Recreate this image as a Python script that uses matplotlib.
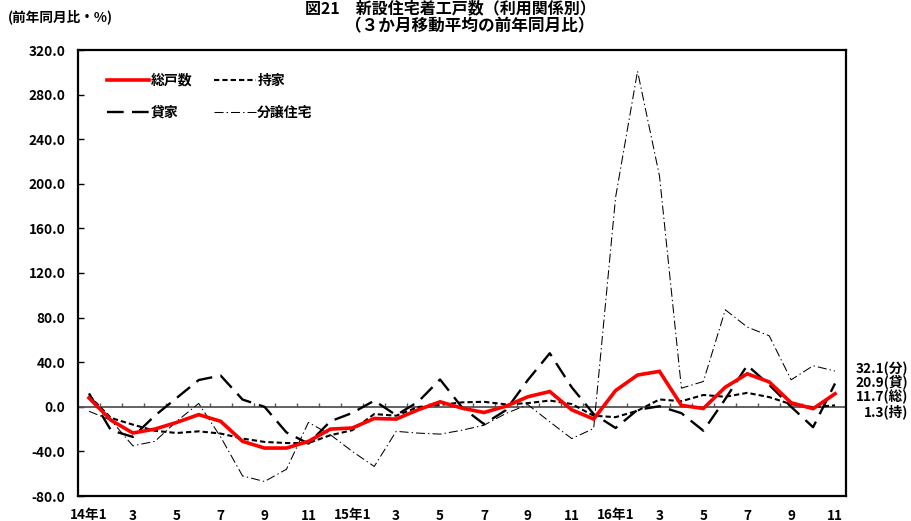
import matplotlib
matplotlib.use("Agg")
import matplotlib.pyplot as plt
import matplotlib.transforms as mtransforms
import numpy as np

plt.rcParams['font.family'] = ['Noto Sans CJK JP', 'DejaVu Sans']
plt.rcParams['font.weight'] = 'bold'
plt.rcParams['lines.scale_dashes'] = False

# 3-month moving average, year-over-year change (%)
months = list(range(35))  # 2014-01 .. 2016-11
tick_labels = ['14年1', '3', '5', '7', '9', '11',
               '15年1', '3', '5', '7', '9', '11',
               '16年1', '3', '5', '7', '9', '11']

total = [8, -12, -23.5, -20, -14, -7, -13, -31, -37, -37, -31, -20,
         -19, -10.5, -11, -2.7, 4.5, -1.2, -5.1, 0.5, 9, 13.7, -2.7, -11,
         14.6, 28.5, 31.8, 1.3, -1.5, 17.6, 29.6, 22.3, 3.6, -1.7, 11.7]
owner = [10, -10, -16, -21.5, -23.5, -22, -24, -28.5, -31.5, -32.5, -32.5, -25.5,
         -21, -6.5, -8, -0.2, 1.7, 4, 4.5, 2.2, 3.3, 5.6, 2.5, -8,
         -9.3, -3.5, 6.6, 5, 10.6, 9, 12.5, 8.7, 2.3, -0.3, 1.3]
rental = [12, -21, -27, -8, 8, 24, 28, 6.5, 0, -23, -33, -13,
          -5.5, 5.5, -7.5, 4.5, 24.5, -0.5, -15.5, -3, 24, 48, 17.5, -6.5,
          -19, -2.7, 0.5, -5.7, -21.5, 7, 37.2, 19.7, 0, -18.3, 20.9]
condo = [-4, -12, -35, -31, -13, 3, -27, -62, -67, -56, -14, -25,
         -40, -53.5, -22, -23.6, -24.5, -21, -16.5, -6, 2, -13.5, -28.5, -19.5,
         188, 301, 207, 16.7, 22.7, 87, 71.5, 63.7, 24.2, 36.8, 32.1]

fig = plt.figure(figsize=(9.11, 5.21), dpi=100)
ax = fig.add_axes([78 / 911, 1 - 496 / 521, (846 - 78) / 911, (496 - 50) / 521])

h_owner, = ax.plot(months, owner, color='black', lw=1.5, dashes=(3.8, 2.2), zorder=3)
h_rental, = ax.plot(months, rental, color='black', lw=1.7, dashes=(12, 6), zorder=3)
h_condo, = ax.plot(months, condo, color='black', lw=0.75, dashes=(6.5, 2.2, 1, 2.2), zorder=3)
h_total, = ax.plot(months, total, color='#ff0000', lw=2.6, zorder=4, solid_joinstyle='miter')

ax.set_xlim(-0.5, 34.5)
ax.set_ylim(-80, 320)
ax.set_yticks(np.arange(-80, 321, 40))
ax.set_yticklabels([f'{v:.1f}' for v in np.arange(-80, 321, 40)], fontsize=9.8)
ax.tick_params(axis='y', direction='in', length=4, width=1, pad=9)

ax.set_xticks(months[::2])
ax.set_xticklabels(tick_labels, fontsize=9.8)
ax.tick_params(axis='x', length=0, pad=9)

# category axis crossing at zero, with boundary ticks
ax.axhline(0, color='#555555', lw=1.3, zorder=2)
bounds = np.arange(-0.5, 35, 1.0)
ax.vlines(bounds[1:-1], 0, 3.2, color='#555555', lw=1.0, zorder=2)

for s in ax.spines.values():
    s.set_linewidth(1.6)
    s.set_color('black')

leg = ax.legend([h_total, h_rental, h_owner, h_condo],
                ['総戸数', '貸家', '持家', '分譲住宅'],
                ncol=2, loc='upper left', bbox_to_anchor=(0.022, 0.975),
                frameon=False, fontsize=10, handlelength=3.0,
                handletextpad=0.1, columnspacing=1.6, labelspacing=1.3)

# end-of-series value labels on the right
trans = mtransforms.blended_transform_factory(fig.transFigure, ax.transData)
finals = [(condo[-1], '分', 34), (rental[-1], '貸', 22.2), (total[-1], '総', 9.2), (owner[-1], '持', -4.2)]
for val, nm, ypos in finals:
    ax.text(908 / 911, ypos, f'{val:.1f}({nm})', transform=trans, ha='right', va='center',
            fontsize=9.8, clip_on=False)

fig.text(450 / 911, 1 - 8 / 521, '図21　新設住宅着工戸数（利用関係別）', ha='center', va='center',
         fontsize=11.5)
fig.text(470 / 911, 1 - 26 / 521, '（３か月移動平均の前年同月比）', ha='center', va='center',
         fontsize=12)
fig.text(8 / 911, 1 - 17 / 521, '(前年同月比・%)', ha='left', va='center', fontsize=9.8)

fig.savefig('out.png', dpi=100)
